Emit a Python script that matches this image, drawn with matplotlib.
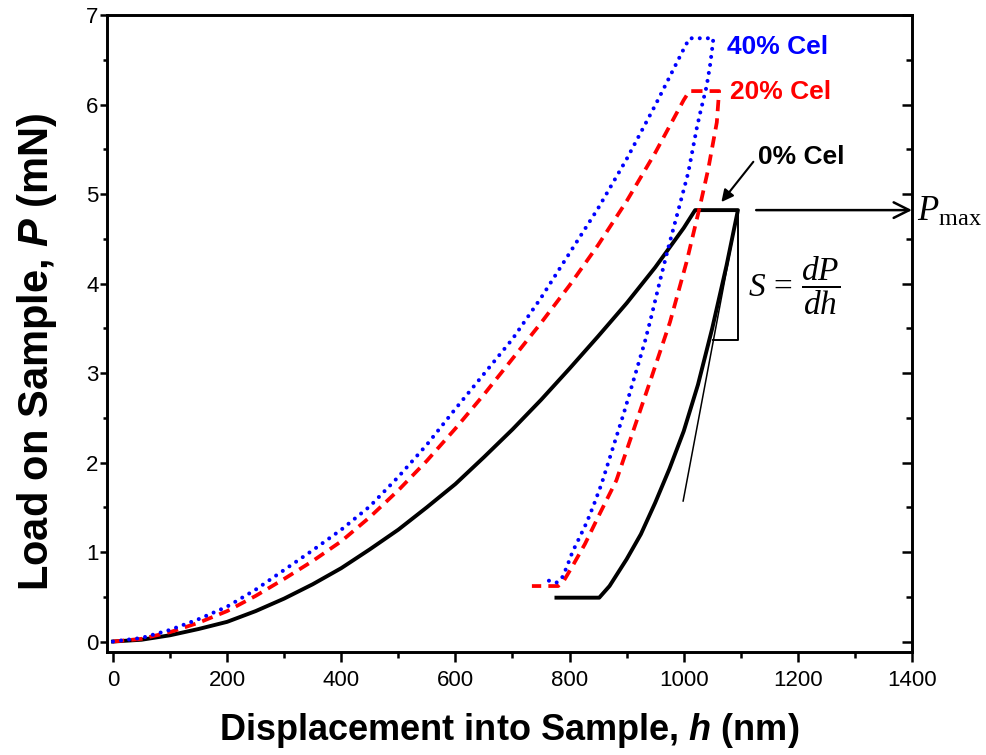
import matplotlib
matplotlib.use("Agg")
import matplotlib.pyplot as plt
from matplotlib.ticker import MultipleLocator

plt.rcParams.update({
    "font.family": ["Liberation Sans", "DejaVu Sans"],
    "mathtext.fontset": "custom",
    "mathtext.rm": "Liberation Serif",
    "mathtext.it": "Liberation Serif:italic",
    "mathtext.bf": "Liberation Sans:bold",
    "mathtext.bfit": "Liberation Sans:bold:italic",
})

# ---- load-displacement curves (h in nm, P in mN) ----
# 0 % cellulose
cel0_load_h = [0, 50, 100, 150, 200, 250, 300, 350, 400, 450, 500, 550, 600, 650,
               700, 750, 800, 850, 900, 950, 1000, 1020]
cel0_load_P = [0, 0.02, 0.07, 0.14, 0.22, 0.34, 0.48, 0.64, 0.82, 1.03, 1.25, 1.50,
               1.76, 2.06, 2.37, 2.70, 3.05, 3.41, 3.78, 4.18, 4.62, 4.82]
cel0_unload_h = [1095, 1075, 1050, 1025, 1000, 975, 950, 925, 900, 870, 852, 777]
cel0_unload_P = [4.82, 4.20, 3.50, 2.87, 2.35, 1.93, 1.55, 1.20, 0.92, 0.62, 0.49, 0.49]

# 20 % cellulose
cel20_load_h = [0, 50, 100, 150, 200, 250, 300, 350, 400, 450, 500, 550, 600, 650,
                700, 750, 800, 850, 900, 950, 1000, 1010]
cel20_load_P = [0, 0.03, 0.105, 0.21, 0.34, 0.51, 0.70, 0.90, 1.12, 1.39, 1.69, 2.02,
                2.38, 2.76, 3.16, 3.56, 3.98, 4.43, 4.92, 5.46, 6.05, 6.15]
cel20_unload_h = [1062, 1058, 1043, 1029, 1005, 976, 955, 944, 929, 905, 882, 853,
                  827, 804, 790, 780, 734]
cel20_unload_P = [6.15, 5.80, 5.28, 4.88, 4.24, 3.57, 3.17, 2.96, 2.68, 2.23, 1.80, 1.43,
                  1.09, 0.83, 0.68, 0.62, 0.62]

# 40 % cellulose
cel40_load_h = [0, 50, 100, 150, 200, 250, 300, 350, 400, 450, 500, 550, 600, 650,
                700, 750, 800, 850, 900, 950, 1000, 1010]
cel40_load_P = [0, 0.04, 0.13, 0.25, 0.39, 0.58, 0.80, 1.02, 1.25, 1.51, 1.84, 2.20,
                2.60, 2.99, 3.38, 3.84, 4.34, 4.84, 5.39, 5.99, 6.62, 6.74]
cel40_unload_h = [1052, 1050, 1046, 1040, 1029, 1023, 1008, 991, 973, 958, 944, 932,
                  895, 856, 842, 830, 818, 805, 795, 786, 778, 771, 760]
cel40_unload_P = [6.74, 6.63, 6.43, 6.20, 5.91, 5.74, 5.24, 4.83, 4.40, 4.02, 3.65, 3.35,
                  2.55, 1.76, 1.52, 1.33, 1.17, 1.00, 0.83, 0.70, 0.66, 0.66, 0.69]

# contact stiffness construction on the 0 % curve
tangent_h = [999, 1095]
tangent_P = [1.57, 4.82]
triangle_h = [1052, 1095, 1095]
triangle_P = [3.37, 3.37, 4.82]
p_max = 4.82

x_ticks = [0, 200, 400, 600, 800, 1000, 1200, 1400]
y_ticks = [0, 1, 2, 3, 4, 5, 6, 7]

fig = plt.figure(figsize=(9.87, 7.55), dpi=100)
ax = fig.add_axes([107 / 987, 1 - 652 / 755, (912 - 107) / 987, (652 - 15) / 755])

ax.plot(cel0_load_h + cel0_unload_h, cel0_load_P + cel0_unload_P,
        color="black", lw=2.8, solid_joinstyle="round", zorder=3)
ax.plot(cel20_load_h + cel20_unload_h, cel20_load_P + cel20_unload_P,
        color="red", lw=2.7, linestyle=(0, (3.0, 1.9)), zorder=4)
ax.plot(cel40_load_h + cel40_unload_h, cel40_load_P + cel40_unload_P,
        color="blue", lw=2.9, linestyle=(0, (0.01, 2.0)), dash_capstyle="round", zorder=5)

ax.plot(tangent_h, tangent_P, color="black", lw=1.1, zorder=3)
ax.plot(triangle_h, triangle_P, color="black", lw=1.4, zorder=3)

# series labels
ax.text(1075, 6.64, "40% Cel", color="blue", fontsize=19, fontweight="bold", va="center")
ax.text(1081, 6.14, "20% Cel", color="red", fontsize=19, fontweight="bold", va="center")
ax.text(1130, 5.41, "0% Cel", color="black", fontsize=19, fontweight="bold", va="center")
ax.annotate("", xy=(1066, 4.91), xytext=(1122, 5.36),
            arrowprops=dict(arrowstyle="-|>", lw=1.5, color="black", mutation_scale=18,
                            shrinkA=0, shrinkB=0))

# P_max arrow and stiffness formula
ax.annotate("", xy=(1400, p_max), xytext=(1127, p_max), annotation_clip=False,
            arrowprops=dict(arrowstyle="->", lw=1.8, color="black", mutation_scale=28,
                            shrinkA=0, shrinkB=0))
ax.text(1408, p_max - 0.02, r"$P_{\mathrm{max}}$", fontsize=25, va="center", ha="left",
        clip_on=False)
ax.text(1112, 3.98, r"$S\,=\,\dfrac{dP}{dh}$", fontsize=24, va="center", ha="left")

ax.set_xlim(-10.5, 1400)
ax.set_ylim(-0.117, 7)
ax.set_xticks(x_ticks)
ax.set_yticks(y_ticks)
ax.xaxis.set_minor_locator(MultipleLocator(100))
ax.yaxis.set_minor_locator(MultipleLocator(0.5))
ax.tick_params(which="major", direction="out", length=7, width=1.8, labelsize=16)
ax.tick_params(which="minor", direction="out", length=4, width=1.8)
ax.tick_params(axis="x", which="major", pad=6)
ax.tick_params(axis="y", which="major", length=5, pad=1)
ax.tick_params(axis="y", which="minor", length=3)
ax.tick_params(which="both", top=False, right=False)
for s in ax.spines.values():
    s.set_linewidth(1.9)

# inward ticks on the right-hand spine
ax2 = ax.twinx()
ax2.set_ylim(ax.get_ylim())
ax2.set_yticks(y_ticks)
ax2.yaxis.set_minor_locator(MultipleLocator(0.5))
ax2.tick_params(which="major", direction="in", length=7, width=1.8, labelright=False)
ax2.tick_params(which="minor", direction="in", length=4, width=1.8)
for s in ax2.spines.values():
    s.set_linewidth(1.9)

ax.set_xlabel(r"Displacement into Sample, $\mathbfit{h}$ (nm)", fontsize=26,
              fontweight="bold", labelpad=14)
ax.set_ylabel(r"Load on Sample, $\mathbfit{P}$ (mN)", fontsize=30, fontweight="bold")
ax.yaxis.set_label_coords(-0.06, 0.471)

fig.savefig("out.png", dpi=100)
